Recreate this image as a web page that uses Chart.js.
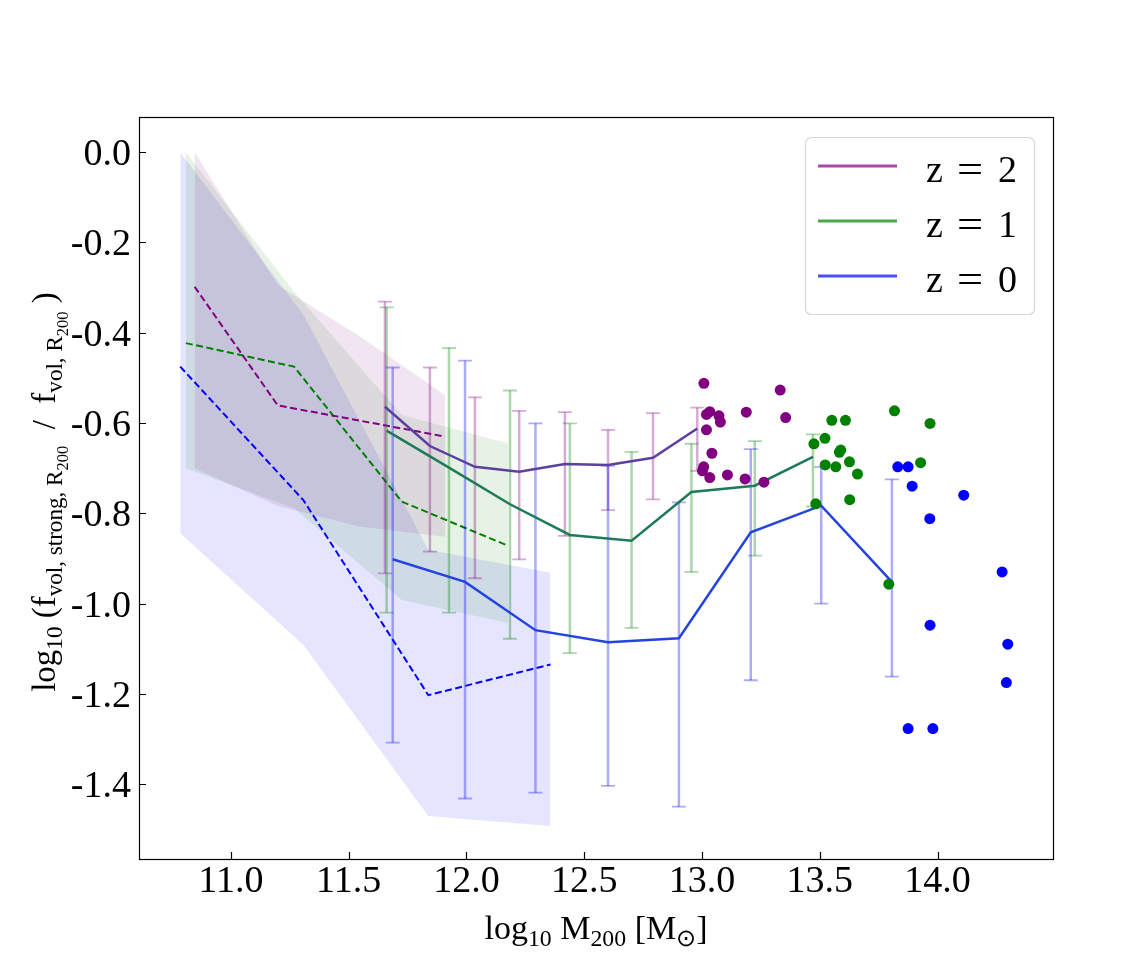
<!DOCTYPE html>
<html>
<head>
<meta charset="utf-8">
<script src="https://cdn.jsdelivr.net/npm/chart.js@4.4.0/dist/chart.umd.min.js"></script>
<style>
  html, body { margin: 0; padding: 0; background: #fff; }
</style>
</head>
<body>
<canvas id="chart" width="1136" height="975"></canvas>
<script>
// axis ticks
const xTicks = [11.0, 11.5, 12.0, 12.5, 13.0, 13.5, 14.0];
const xTickLabels = ['11.0', '11.5', '12.0', '12.5', '13.0', '13.5', '14.0'];
const yTicks = [0.0, -0.2, -0.4, -0.6, -0.8, -1.0, -1.2, -1.4];
const yTickLabels = ['0.0', '-0.2', '-0.4', '-0.6', '-0.8', '-1.0', '-1.2', '-1.4'];

// dashed medians + shaded ranges (low mass sample)
const dashX_z2 = [10.846, 11.199, 11.55, 11.909];
const dashY_z2 = [-0.298, -0.561, -0.595, -0.630];
const bandHi_z2 = [0.0, -0.294, -0.409, -0.538];
const bandLo_z2 = [-0.700, -0.784, -0.830, -0.852];

const dashX_z1 = [10.809, 11.268, 11.725, 12.177];
const dashY_z1 = [-0.423, -0.475, -0.774, -0.872];
const bandHi_z1 = [0.0, -0.309, -0.582, -0.645];
const bandLo_z1 = [-0.700, -0.789, -0.992, -1.043];

const dashX_z0 = [10.785, 11.308, 11.838, 12.357];
const dashY_z0 = [-0.475, -0.771, -1.203, -1.135];
const bandHi_z0 = [0.0, -0.360, -0.881, -0.932];
const bandLo_z0 = [-0.844, -1.092, -1.471, -1.493];

// solid medians with error bars
const solidX_z2 = [11.654, 11.845, 12.036, 12.224, 12.418, 12.601, 12.792, 12.980];
const solidY_z2 = [-0.564, -0.651, -0.697, -0.708, -0.691, -0.693, -0.677, -0.612];
const errHi_z2 = [-0.331, -0.477, -0.543, -0.573, -0.576, -0.615, -0.578, -0.566];
const errLo_z2 = [-0.933, -0.885, -0.944, -0.902, -0.850, -0.793, -0.769, -0.706];

const solidX_z1 = [11.661, 11.926, 12.185, 12.439, 12.701, 12.955, 13.224, 13.471];
const solidY_z1 = [-0.617, -0.699, -0.780, -0.848, -0.861, -0.753, -0.739, -0.675];
const errHi_z1 = [-0.344, -0.434, -0.528, -0.601, -0.664, -0.646, -0.640, -0.625];
const errLo_z1 = [-1.020, -1.020, -1.078, -1.110, -1.054, -0.930, -0.894, -0.785];

const solidX_z0 = [11.687, 11.994, 12.293, 12.601, 12.902, 13.207, 13.506, 13.806];
const solidY_z0 = [-0.902, -0.952, -1.059, -1.086, -1.077, -0.842, -0.783, -0.952];
const errHi_z0 = [-0.477, -0.462, -0.601, -0.695, -0.776, -0.658, -0.697, -0.725];
const errLo_z0 = [-1.308, -1.432, -1.419, -1.404, -1.450, -1.170, -1.000, -1.162];

// individual massive haloes
const scatX_z2 = [13.008, 13.019, 13.033, 13.072, 13.078, 13.019, 13.042, 13.007, 13.002, 13.033, 13.108, 13.183, 13.188, 13.263, 13.332, 13.355];
const scatY_z2 = [-0.512, -0.581, -0.575, -0.584, -0.598, -0.615, -0.667, -0.697, -0.706, -0.721, -0.715, -0.724, -0.576, -0.731, -0.527, -0.588];
const scatX_z1 = [13.817, 13.968, 13.551, 13.609, 13.475, 13.522, 13.589, 13.583, 13.523, 13.568, 13.626, 13.660, 13.627, 13.928, 13.483, 13.793];
const scatY_z1 = [-0.573, -0.601, -0.594, -0.594, -0.646, -0.634, -0.660, -0.665, -0.693, -0.697, -0.686, -0.713, -0.770, -0.688, -0.779, -0.957];
const scatX_z0 = [13.831, 13.875, 13.892, 14.111, 13.967, 14.274, 13.968, 14.298, 14.292, 13.875, 13.980];
const scatY_z0 = [-0.697, -0.697, -0.740, -0.760, -0.812, -0.930, -1.048, -1.090, -1.175, -1.277, -1.277];

const legendLabels = ['2', '1', '0'];

const SERIF = 'Liberation Serif';
const pts = (xs, ys) => xs.map((x, i) => ({ x, y: ys[i] }));

function band(xs, hi, lo, color) {
  return [
    { type: 'line', data: pts(xs, hi), fill: '+1', backgroundColor: color, borderWidth: 0, pointRadius: 0, order: 50 },
    { type: 'line', data: pts(xs, lo), fill: false, borderWidth: 0, pointRadius: 0, order: 50 }
  ];
}
function dashed(xs, ys, color) {
  return { type: 'line', data: pts(xs, ys), borderColor: color, borderWidth: 2, borderDash: [7, 3.5], pointRadius: 0, fill: false, order: 40 };
}
function solid(xs, ys, hi, lo, color, errColor, order) {
  return { type: 'line', data: pts(xs, ys), borderColor: color, borderWidth: 2.5, pointRadius: 0, fill: false,
           errHi: hi, errLo: lo, errColor, order };
}
function dots(xs, ys, color) {
  return { type: 'scatter', data: pts(xs, ys), backgroundColor: color, borderWidth: 0, pointRadius: 5.5, order: 10 };
}

const datasets = [
  ...band(dashX_z2, bandHi_z2, bandLo_z2, 'rgba(128,0,128,0.1)'),
  ...band(dashX_z1, bandHi_z1, bandLo_z1, 'rgba(0,128,0,0.1)'),
  ...band(dashX_z0, bandHi_z0, bandLo_z0, 'rgba(0,0,255,0.1)'),
  dashed(dashX_z2, dashY_z2, '#800080'),
  dashed(dashX_z1, dashY_z1, '#008000'),
  dashed(dashX_z0, dashY_z0, '#0000ff'),
  solid(solidX_z2, solidY_z2, errHi_z2, errLo_z2, '#5c3f9e', 'rgba(128,0,128,0.33)', 20),
  solid(solidX_z1, solidY_z1, errHi_z1, errLo_z1, '#1e7a57', 'rgba(0,128,0,0.33)', 21),
  solid(solidX_z0, solidY_z0, errHi_z0, errLo_z0, '#2444e0', 'rgba(0,0,255,0.33)', 22),
  dots(scatX_z2, scatY_z2, '#800080'),
  dots(scatX_z1, scatY_z1, '#008000'),
  dots(scatX_z0, scatY_z0, '#0000ff')
];

// all error bars, drawn just before the first solid line
const errorBars = {
  id: 'errorBars',
  beforeDatasetDraw(chart, args) {
    const withErr = chart.data.datasets.filter(d => d.errHi);
    const maxOrder = Math.max(...withErr.map(d => d.order));
    const cur = chart.data.datasets[args.index];
    if (!cur.errHi || cur.order !== maxOrder) return;
    const { ctx, scales: { x, y } } = chart;
    ctx.save();
    withErr.forEach(ds => {
      ctx.strokeStyle = ds.errColor;
      ds.data.forEach((p, i) => {
        const px = x.getPixelForValue(p.x);
        const top = y.getPixelForValue(ds.errHi[i]);
        const bot = y.getPixelForValue(ds.errLo[i]);
        ctx.lineWidth = 2.5;
        ctx.beginPath();
        ctx.moveTo(px, top); ctx.lineTo(px, bot);
        ctx.stroke();
        ctx.lineWidth = 1.8;
        ctx.beginPath();
        ctx.moveTo(px - 7, top); ctx.lineTo(px + 7, top);
        ctx.moveTo(px - 7, bot); ctx.lineTo(px + 7, bot);
        ctx.stroke();
      });
    });
    ctx.restore();
  }
};

// text with sub/subsub scripts: parts = [text, level]
function drawRich(ctx, parts, x, y, angle, base) {
  const sizes = [base, base * 0.7, base * 0.5];
  const drops = [0, base * 0.22, base * 0.38];
  ctx.save();
  ctx.translate(x, y);
  ctx.rotate(angle);
  ctx.textBaseline = 'alphabetic';
  ctx.textAlign = 'left';
  ctx.fillStyle = '#000';
  let total = 0;
  parts.forEach(([t, lv]) => { ctx.font = sizes[lv] + 'px ' + SERIF; total += ctx.measureText(t).width; });
  let cx = -total / 2;
  parts.forEach(([t, lv]) => {
    ctx.font = sizes[lv] + 'px ' + SERIF;
    ctx.fillText(t, cx, drops[lv]);
    cx += ctx.measureText(t).width;
  });
  ctx.restore();
}

const frameAndTitles = {
  id: 'frameAndTitles',
  afterDatasetsDraw(chart) {
    const { ctx, chartArea: a, scales: { x, y } } = chart;
    ctx.save();
    ctx.strokeStyle = '#000';
    ctx.lineWidth = 1.2;
    ctx.strokeRect(a.left + 0.5, a.top + 0.5, a.right - a.left, a.bottom - a.top);
    ctx.beginPath();
    xTicks.forEach(v => {
      const px = Math.round(x.getPixelForValue(v)) + 0.5;
      ctx.moveTo(px, a.bottom); ctx.lineTo(px, a.bottom - 7);
    });
    yTicks.forEach(v => {
      const py = Math.round(y.getPixelForValue(v)) + 0.5;
      ctx.moveTo(a.left, py); ctx.lineTo(a.left + 7, py);
    });
    ctx.stroke();

    // tick labels
    ctx.font = '38px ' + SERIF;
    ctx.fillStyle = '#000';
    ctx.textBaseline = 'alphabetic';
    ctx.textAlign = 'center';
    xTicks.forEach((v, i) => ctx.fillText(xTickLabels[i], x.getPixelForValue(v), a.bottom + 33));
    ctx.textAlign = 'right';
    yTicks.forEach((v, i) => ctx.fillText(yTickLabels[i], a.left - 8, y.getPixelForValue(v) + 13));
    ctx.restore();

    drawRich(ctx, [['log', 0], ['10', 1], [' M', 0], ['200', 1], [' [M', 0], ['\u2299', 1], [']', 0]],
      (a.left + a.right) / 2, 939, 0, 34);
    drawRich(ctx, [['log', 0], ['10', 1], [' (', 0], ['f', 0], ['vol, strong, R', 1], ['200', 2],
      ['  /  ', 0], ['f', 0], ['vol, R', 1], ['200', 2], [' )', 0]],
      55, (a.top + a.bottom) / 2 + 4, -Math.PI / 2, 33);
  },
  afterDraw(chart) {
    const ctx = chart.ctx;
    const colors = ['rgba(128,0,128,0.7)', 'rgba(0,128,0,0.7)', 'rgba(0,0,255,0.7)'];
    ctx.save();
    ctx.beginPath();
    ctx.roundRect(805.5, 137.5, 229, 177, 6);
    ctx.fillStyle = 'rgba(255,255,255,0.85)';
    ctx.fill();
    ctx.strokeStyle = '#d6d6d6';
    ctx.lineWidth = 1.2;
    ctx.stroke();
    ctx.font = '38px ' + SERIF;
    ctx.fillStyle = '#000';
    ctx.textBaseline = 'alphabetic';
    legendLabels.forEach((lab, i) => {
      const ly = 166 + i * 55;
      ctx.strokeStyle = colors[i];
      ctx.lineWidth = 3;
      ctx.beginPath();
      ctx.moveTo(818, ly); ctx.lineTo(897, ly);
      ctx.stroke();
      ctx.textAlign = 'left';
      ctx.fillText('z', 926, ly + 16);
      ctx.save();
      ctx.translate(957, ly + 16);
      ctx.scale(1.22, 1);
      ctx.fillText('=', 0, 0);
      ctx.restore();
      ctx.fillText(lab, 998, ly + 16);
    });
    ctx.restore();
  }
};

new Chart(document.getElementById('chart'), {
  type: 'scatter',
  data: { datasets },
  options: {
    responsive: false,
    animation: false,
    devicePixelRatio: 1,
    layout: { padding: { top: 117, right: 83, left: 0, bottom: 0 } },
    plugins: { legend: { display: false }, tooltip: { enabled: false } },
    scales: {
      x: {
        type: 'linear', min: 10.61, max: 14.49,
        afterBuildTicks: s => { s.ticks = xTicks.map(v => ({ value: v })); },
        afterFit: s => { s.height = 116; },
        grid: { display: false, drawTicks: false },
        border: { display: false },
        ticks: { display: false }
      },
      y: {
        type: 'linear', min: -1.566, max: 0.078,
        afterBuildTicks: s => { s.ticks = yTicks.map(v => ({ value: v })); },
        afterFit: s => { s.width = 139; },
        grid: { display: false, drawTicks: false },
        border: { display: false },
        ticks: { display: false }
      }
    }
  },
  plugins: [errorBars, frameAndTitles]
});
</script>
</body>
</html>
